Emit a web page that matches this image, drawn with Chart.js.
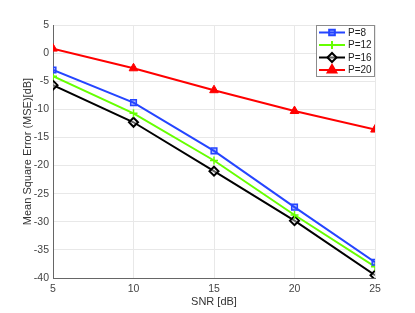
<!DOCTYPE html>
<html>
<head>
<meta charset="utf-8">
<script src="https://cdn.jsdelivr.net/npm/chart.js@4/dist/chart.umd.min.js"></script>
<style>
  html, body { margin: 0; padding: 0; background: #fff; }
  #wrap { width: 415px; height: 313px; }
</style>
</head>
<body>
<div id="wrap"><canvas id="mseChart" width="415" height="313"></canvas></div>
<script>
const snr = [5, 10, 15, 20, 25];
const mseP8 = [-3.0, -8.8, -17.4, -27.4, -37.2];
const mseP12 = [-4.1, -10.7, -19.1, -28.8, -38.0];
const mseP16 = [-5.7, -12.3, -21.0, -29.8, -39.5];
const mseP20 = [0.8, -2.7, -6.6, -10.3, -13.6];
const seriesLabels = ['P=8', 'P=12', 'P=16', 'P=20'];
const yTicks = [-40, -35, -30, -25, -20, -15, -10, -5, 0, 5];

const fontFamily = '"Liberation Sans", Arial, sans-serif';

function pts(vals) {
    return snr.map((x, i) => ({ x: x, y: vals[i] }));
}

// legend drawn inside the plot, top-right corner
const boxLegend = {
    id: 'boxLegend',
    afterDraw(chart) {
        const ctx = chart.ctx;
        const area = chart.chartArea;
        const w = 59, h = 52;
        const x0 = area.right - w, y0 = area.top;
        ctx.save();
        ctx.fillStyle = '#fff';
        ctx.fillRect(x0, y0, w, h);
        ctx.strokeStyle = '#8c8c8c';
        ctx.lineWidth = 1;
        ctx.strokeRect(x0 + 0.5, y0 + 0.5, w - 1, h - 1);
        ctx.font = '10px ' + fontFamily;
        ctx.textBaseline = 'middle';
        chart.data.datasets.forEach((ds, i) => {
            const cy = y0 + 7.5 + i * 12.5;
            ctx.strokeStyle = ds.borderColor;
            ctx.fillStyle = ds.backgroundColor;
            ctx.lineWidth = 2;
            ctx.beginPath();
            ctx.moveTo(x0 + 3, cy);
            ctx.lineTo(x0 + 29, cy);
            ctx.stroke();
            Chart.helpers.drawPoint(ctx, {
                pointStyle: ds.pointStyle,
                radius: ds.pointRadius,
                borderWidth: ds.pointBorderWidth
            }, x0 + 16, cy);
            ctx.fillStyle = '#222';
            ctx.fillText(ds.label, x0 + 32, cy + 0.5);
        });
        ctx.restore();
    }
};

const ctx = document.getElementById('mseChart').getContext('2d');
new Chart(ctx, {
    type: 'line',
    data: {
        datasets: [
            {
                label: seriesLabels[0], data: pts(mseP8),
                borderColor: '#2545ff', backgroundColor: 'rgba(37,69,255,0.4)',
                pointStyle: 'rect', pointRadius: 4, pointBorderWidth: 1.5
            },
            {
                label: seriesLabels[1], data: pts(mseP12),
                borderColor: '#66ff00', backgroundColor: '#66ff00',
                pointStyle: 'cross', pointRadius: 4, pointBorderWidth: 1.5
            },
            {
                label: seriesLabels[2], data: pts(mseP16),
                borderColor: '#000000', backgroundColor: 'rgba(255,255,255,0.4)',
                pointStyle: 'rectRot', pointRadius: 4.5, pointBorderWidth: 2
            },
            {
                label: seriesLabels[3], data: pts(mseP20),
                borderColor: '#ff0000', backgroundColor: '#ff0000',
                pointStyle: 'triangle', pointRadius: 5, pointBorderWidth: 1
            }
        ].map(d => Object.assign({
            borderWidth: 2,
            tension: 0,
            fill: false,
            pointBackgroundColor: d.backgroundColor,
            pointBorderColor: d.borderColor
        }, d))
    },
    options: {
        responsive: false,
        animation: false,
        layout: { padding: { top: 25, right: 40, left: 0, bottom: 0 } },
        plugins: {
            legend: { display: false },
            tooltip: { enabled: false }
        },
        scales: {
            x: {
                type: 'linear',
                min: 5, max: 25,
                afterBuildTicks: s => { s.ticks = snr.map(v => ({ value: v })); },
                afterFit: s => { s.height = 35; },
                grid: { color: '#e8e8e8', drawTicks: false },
                border: { color: '#666', width: 1 },
                ticks: {
                    color: '#444', padding: 5,
                    font: { family: fontFamily, size: 10.5 }
                },
                title: {
                    display: true, text: 'SNR [dB]', color: '#333', padding: { top: 0, bottom: 4 },
                    font: { family: fontFamily, size: 11 }
                }
            },
            y: {
                min: -40, max: 5,
                afterBuildTicks: s => { s.ticks = yTicks.map(v => ({ value: v })); },
                afterFit: s => { s.width = 53; },
                grid: { color: '#e8e8e8', drawTicks: false },
                border: { color: '#666', width: 1 },
                ticks: {
                    color: '#444', padding: 4,
                    font: { family: fontFamily, size: 10.5 }
                },
                title: {
                    display: true, text: 'Mean Square Error (MSE)[dB]', color: '#333',
                    padding: { top: 21, bottom: 0 },
                    font: { family: fontFamily, size: 11 }
                }
            }
        }
    },
    plugins: [boxLegend]
});
</script>
</body>
</html>
